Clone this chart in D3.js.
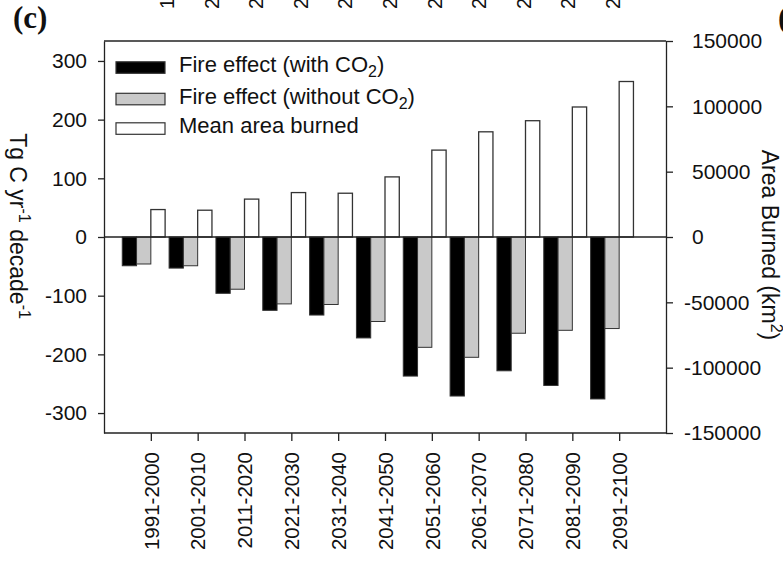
<!DOCTYPE html>
<html>
<head>
<meta charset="utf-8">
<script src="https://cdn.jsdelivr.net/npm/d3@7"></script>
<style>
  body { margin: 0; background: #fff; }
  svg { display: block; font-family: "Liberation Sans", Arial, sans-serif; }
  svg text { font-family: "Liberation Sans", Arial, sans-serif; }
  .axis text { font-size: 21px; fill: #111; }
  .axis path, .axis line { stroke: #222; stroke-width: 1.3; }
</style>
</head>
<body>
<svg id="chart" width="783" height="565"></svg>
<script>
// decades on the x axis
const periods = ['1991-2000', '2001-2010', '2011-2020', '2021-2030', '2031-2040', '2041-2050',
  '2051-2060', '2061-2070', '2071-2080', '2081-2090', '2091-2100'];
// Tg C yr-1 decade-1 (left axis)
const fireWithCO2 = [-49, -53, -96, -125, -133, -172, -237, -271, -228, -253, -276];
const fireWithoutCO2 = [-46, -49, -89, -114, -115, -144, -188, -205, -164, -159, -156];
// km2 (right axis)
const areaBurned = [21000, 20500, 29000, 34000, 33500, 46000, 66500, 80500, 89000, 99500, 119000];
const leftTicks = [-300, -200, -100, 0, 100, 200, 300];
const rightTicks = [-150000, -100000, -50000, 0, 50000, 100000, 150000];
// bottoms of the x labels of the panel above, cut off by the figure edge
const abovePeriods = periods.slice();

let margin = { top: 41, right: 117, bottom: 132, left: 104 };
let width = 783 - margin.left - margin.right;
let height = 565 - margin.top - margin.bottom;

let svg = d3.select('#chart');
let g = svg.append('g').attr('transform', `translate(${margin.left},${margin.top})`);

let x = d3.scalePoint().domain(periods).range([0, width]).padding(1);
let y = d3.scaleLinear().domain([-334, 334]).range([height, 0]);
let y2 = d3.scaleLinear().domain([-150000, 150000]).range([height, 0]);
let bw = x.step() * 0.305;

let rows = periods.map((p, i) => ({ p: p, a: fireWithCO2[i], b: fireWithoutCO2[i], c: areaBurned[i] }));

// bars: black and gray to the left of the tick, white to the right
g.selectAll('.barA').data(rows).enter().append('rect')
  .attr('x', d => x(d.p) - 2 * bw).attr('width', bw)
  .attr('y', d => y(Math.max(0, d.a))).attr('height', d => Math.abs(y(d.a) - y(0)))
  .attr('fill', '#000').attr('stroke', '#333').attr('stroke-width', 1);
g.selectAll('.barB').data(rows).enter().append('rect')
  .attr('x', d => x(d.p) - bw).attr('width', bw)
  .attr('y', d => y(Math.max(0, d.b))).attr('height', d => Math.abs(y(d.b) - y(0)))
  .attr('fill', '#c9c9c9').attr('stroke', '#333').attr('stroke-width', 1);
g.selectAll('.barC').data(rows).enter().append('rect')
  .attr('x', d => x(d.p)).attr('width', bw)
  .attr('y', d => y2(Math.max(0, d.c))).attr('height', d => Math.abs(y2(d.c) - y2(0)))
  .attr('fill', '#fff').attr('stroke', '#333').attr('stroke-width', 1.3);

// zero line
g.append('line').attr('x1', 0).attr('x2', width).attr('y1', y(0)).attr('y2', y(0))
  .attr('stroke', '#222').attr('stroke-width', 1.3);

// frame top
g.append('line').attr('x1', 0).attr('x2', width).attr('y1', 0).attr('y2', 0)
  .attr('stroke', '#222').attr('stroke-width', 1.3);

// left axis
g.append('g').attr('class', 'axis')
  .call(d3.axisLeft(y).tickValues(leftTicks).tickSize(6).tickSizeOuter(0).tickPadding(11).tickFormat(d => String(d)));

// right axis, labels left aligned with the minus hanging
g.append('g').attr('class', 'axis').attr('transform', `translate(${width},0)`)
  .call(d3.axisRight(y2).tickValues(rightTicks).tickSize(7).tickSizeOuter(0).tickPadding(19).tickFormat(d => String(d)))
  .selectAll('.tick text').attr('dx', d => d < 0 ? -8 : 0);

// bottom axis
let xa = g.append('g').attr('class', 'axis').attr('transform', `translate(0,${height})`)
  .call(d3.axisBottom(x).tickSize(8).tickSizeOuter(0));
xa.select('.domain').attr('d', `M0,0H${width}`);
xa.selectAll('.tick text').style('font-size', '20.5px')
  .attr('transform', 'rotate(-90)').attr('x', -19).attr('y', 0).attr('dy', '0.35em')
  .attr('text-anchor', 'end');

// legend
let legendItems = [
  { fill: '#000', t: 'Fire effect (with CO', sub: '2', end: ')' },
  { fill: '#c9c9c9', t: 'Fire effect (without CO', sub: '2', end: ')' },
  { fill: '#fff', t: 'Mean area burned', sub: '', end: '' }
];
let legendY = [67.5, 99, 128.5];
let legend = svg.selectAll('.legend').data(legendItems).enter().append('g')
  .attr('transform', (d, i) => `translate(116,${legendY[i]})`);
legend.append('rect').attr('x', 0).attr('y', -5.7).attr('width', 49).attr('height', 11.5)
  .attr('fill', d => d.fill).attr('stroke', '#333').attr('stroke-width', 1.2);
let lt = legend.append('text').attr('x', 63).attr('y', 4.5).style('font-size', '22px').attr('fill', '#111');
lt.append('tspan').text(d => d.t);
lt.append('tspan').attr('dy', 5).style('font-size', '16px').text(d => d.sub);
lt.append('tspan').attr('dy', -5).text(d => d.end);

// left axis title
let lTitle = svg.append('text').attr('transform', 'translate(10,226) rotate(90)')
  .attr('text-anchor', 'middle').style('font-size', '23px').attr('fill', '#111');
lTitle.append('tspan').text('Tg C yr');
lTitle.append('tspan').attr('dy', -9).style('font-size', '16px').text('-1');
lTitle.append('tspan').attr('dy', 9).text(' decade');
lTitle.append('tspan').attr('dy', -9).style('font-size', '16px').text('-1');

// right axis title
let rTitle = svg.append('text').attr('transform', 'translate(762,245) rotate(90)')
  .attr('text-anchor', 'middle').style('font-size', '23px').attr('fill', '#111');
rTitle.append('tspan').text('Area Burned (km');
rTitle.append('tspan').attr('dy', -9).style('font-size', '16px').text('2');
rTitle.append('tspan').attr('dy', 9).text(')');

// panel letter
svg.append('text').attr('x', 13).attr('y', 28)
  .style('font-family', '"Liberation Serif", "Times New Roman", serif')
  .style('font-weight', 'bold').style('font-size', '31px').attr('fill', '#111').text('(c)');
svg.append('text').attr('x', 778).attr('y', 28)
  .style('font-family', '"Liberation Serif", "Times New Roman", serif')
  .style('font-weight', 'bold').style('font-size', '31px').attr('fill', '#111').text('(d)');

// cut-off labels of the panel above
let xAbove = d3.scalePoint().domain(abovePeriods).range([167, 613]);
svg.selectAll('.above').data(abovePeriods).enter().append('text')
  .attr('transform', d => `translate(${xAbove(d)},9) rotate(-90)`)
  .attr('dy', '0.35em').attr('text-anchor', 'start')
  .style('font-size', '20px').attr('fill', '#111').text(d => d);
</script>
</body>
</html>
